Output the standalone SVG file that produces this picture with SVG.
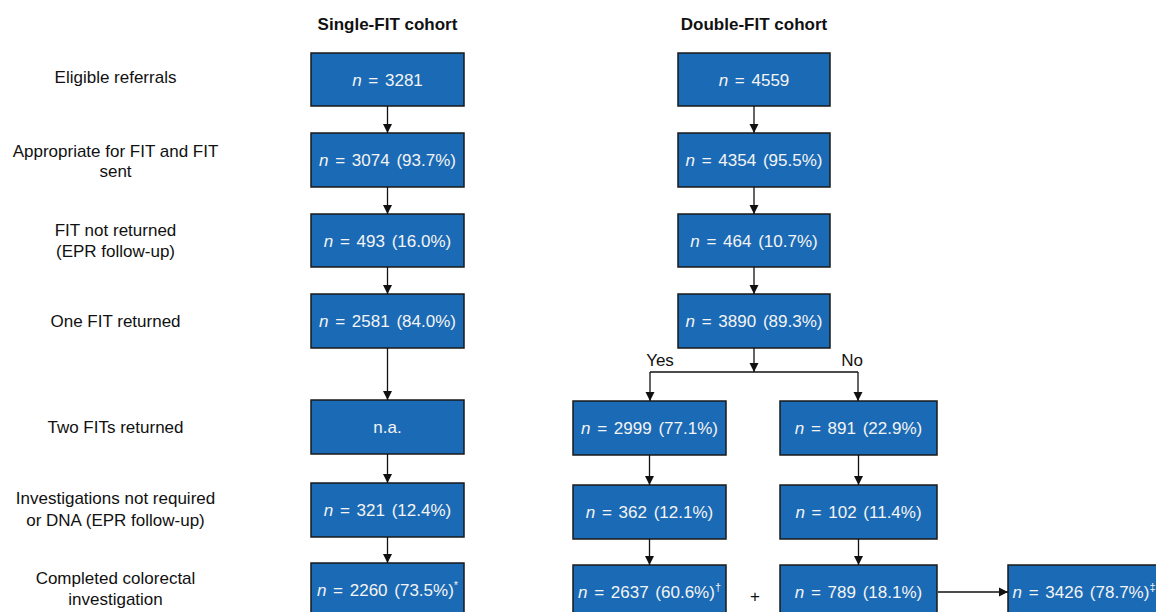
<svg xmlns="http://www.w3.org/2000/svg" width="1156" height="612" viewBox="0 0 1156 612">
<defs>
<style>
.lbl{font-family:"Liberation Sans",Arial,sans-serif;font-size:17px;fill:#111;text-anchor:middle}
.hdr{font-family:"Liberation Sans",Arial,sans-serif;font-size:17px;font-weight:bold;fill:#111;text-anchor:middle}
.box{fill:#1b6ab5;stroke:#1a1a1a;stroke-width:1.5}
.bt{font-family:"Liberation Sans",Arial,sans-serif;font-size:17px;fill:#f4f4f4;text-anchor:middle;word-spacing:2px}
.it{font-style:italic}
.sup{font-size:11px}
.con line,.con polyline{stroke:#111;stroke-width:1.3;fill:none;marker-end:url(#ah)}
.con .plain{marker-end:none}
</style>
<marker id="ah" markerUnits="userSpaceOnUse" markerWidth="10" markerHeight="10" refX="9" refY="5" orient="auto">
<path d="M0,0.5 L9,5 L0,9.5 Z" fill="#111"/>
</marker>
</defs>
<rect width="1156" height="612" fill="#fff"/>

<g id="headers">
<text class="hdr" x="387.5" y="30">Single-FIT cohort</text>
<text class="hdr" x="754" y="30">Double-FIT cohort</text>
</g>

<g id="row-labels">
<text class="lbl" x="115.5" y="83">Eligible referrals</text>
<text class="lbl" x="115.5" y="157">Appropriate for FIT and FIT</text>
<text class="lbl" x="115.5" y="177">sent</text>
<text class="lbl" x="115.5" y="236">FIT not returned</text>
<text class="lbl" x="115.5" y="257">(EPR follow-up)</text>
<text class="lbl" x="115.5" y="327">One FIT returned</text>
<text class="lbl" x="115.5" y="433">Two FITs returned</text>
<text class="lbl" x="115.5" y="504">Investigations not required</text>
<text class="lbl" x="115.5" y="526">or DNA (EPR follow-up)</text>
<text class="lbl" x="115.5" y="584">Completed colorectal</text>
<text class="lbl" x="115.5" y="605">investigation</text>
</g>

<g id="s1"><rect class="box" x="311" y="53" width="153" height="53"/><text class="bt" x="387.5" y="86"><tspan class="it">n</tspan> = 3281</text></g>
<g id="s2"><rect class="box" x="311" y="133" width="153" height="54"/><text class="bt" x="387.5" y="166"><tspan class="it">n</tspan> = 3074 (93.7%)</text></g>
<g id="s3"><rect class="box" x="311" y="214" width="153" height="53"/><text class="bt" x="387.5" y="247"><tspan class="it">n</tspan> = 493 (16.0%)</text></g>
<g id="s4"><rect class="box" x="311" y="294" width="153" height="54"/><text class="bt" x="387.5" y="327"><tspan class="it">n</tspan> = 2581 (84.0%)</text></g>
<g id="s5"><rect class="box" x="311" y="400" width="153" height="54"/><text class="bt" x="387.5" y="433">n.a.</text></g>
<g id="s6"><rect class="box" x="311" y="483" width="153" height="54"/><text class="bt" x="387.5" y="516"><tspan class="it">n</tspan> = 321 (12.4%)</text></g>
<g id="s7"><rect class="box" x="311" y="563" width="153" height="56"/><text class="bt" x="387.5" y="596"><tspan class="it">n</tspan> = 2260 (73.5%)<tspan class="sup" dy="-7">*</tspan></text></g>

<g id="d1"><rect class="box" x="678" y="53" width="152" height="53"/><text class="bt" x="754" y="86"><tspan class="it">n</tspan> = 4559</text></g>
<g id="d2"><rect class="box" x="678" y="133" width="152" height="54"/><text class="bt" x="754" y="166"><tspan class="it">n</tspan> = 4354 (95.5%)</text></g>
<g id="d3"><rect class="box" x="678" y="214" width="152" height="53"/><text class="bt" x="754" y="247"><tspan class="it">n</tspan> = 464 (10.7%)</text></g>
<g id="d4"><rect class="box" x="678" y="294" width="152" height="54"/><text class="bt" x="754" y="327"><tspan class="it">n</tspan> = 3890 (89.3%)</text></g>
<g id="dy1"><rect class="box" x="573" y="401" width="153" height="54"/><text class="bt" x="649.5" y="434"><tspan class="it">n</tspan> = 2999 (77.1%)</text></g>
<g id="dn1"><rect class="box" x="780" y="401" width="157" height="54"/><text class="bt" x="858.5" y="434"><tspan class="it">n</tspan> = 891 (22.9%)</text></g>
<g id="dy2"><rect class="box" x="573" y="485" width="153" height="54"/><text class="bt" x="649.5" y="518"><tspan class="it">n</tspan> = 362 (12.1%)</text></g>
<g id="dn2"><rect class="box" x="780" y="485" width="157" height="54"/><text class="bt" x="858.5" y="518"><tspan class="it">n</tspan> = 102 (11.4%)</text></g>
<g id="dy3"><rect class="box" x="573" y="565" width="153" height="56"/><text class="bt" x="649.5" y="598"><tspan class="it">n</tspan> = 2637 (60.6%)<tspan class="sup" dy="-7">†</tspan></text></g>
<g id="dn3"><rect class="box" x="780" y="565" width="157" height="56"/><text class="bt" x="858.5" y="598"><tspan class="it">n</tspan> = 789 (18.1%)</text></g>
<g id="dtot"><rect class="box" x="1008" y="565" width="154" height="56"/><text class="bt" x="1084" y="598"><tspan class="it">n</tspan> = 3426 (78.7%)<tspan class="sup" dy="-7">‡</tspan></text></g>

<g id="plus"><text class="lbl" x="755" y="602">+</text></g>
<g id="branch-labels">
<text class="lbl" x="660" y="366">Yes</text>
<text class="lbl" x="852" y="366">No</text>
</g>

<g id="connectors" class="con">
<line x1="387.5" y1="106" x2="387.5" y2="133"/>
<line x1="387.5" y1="187" x2="387.5" y2="214"/>
<line x1="387.5" y1="267" x2="387.5" y2="294"/>
<line x1="387.5" y1="348" x2="387.5" y2="400"/>
<line x1="387.5" y1="454" x2="387.5" y2="483"/>
<line x1="387.5" y1="537" x2="387.5" y2="563"/>
<line x1="754" y1="106" x2="754" y2="133"/>
<line x1="754" y1="187" x2="754" y2="214"/>
<line x1="754" y1="267" x2="754" y2="294"/>
<line x1="754" y1="348" x2="754" y2="372"/>
<polyline class="plain" points="650,372 858,372"/>
<line x1="650" y1="372" x2="650" y2="401"/>
<line x1="858" y1="372" x2="858" y2="401"/>
<line x1="649.5" y1="455" x2="649.5" y2="485"/>
<line x1="858.5" y1="455" x2="858.5" y2="485"/>
<line x1="649.5" y1="539" x2="649.5" y2="565"/>
<line x1="858.5" y1="539" x2="858.5" y2="565"/>
<line x1="938" y1="592" x2="1008" y2="592"/>
</g>
</svg>
